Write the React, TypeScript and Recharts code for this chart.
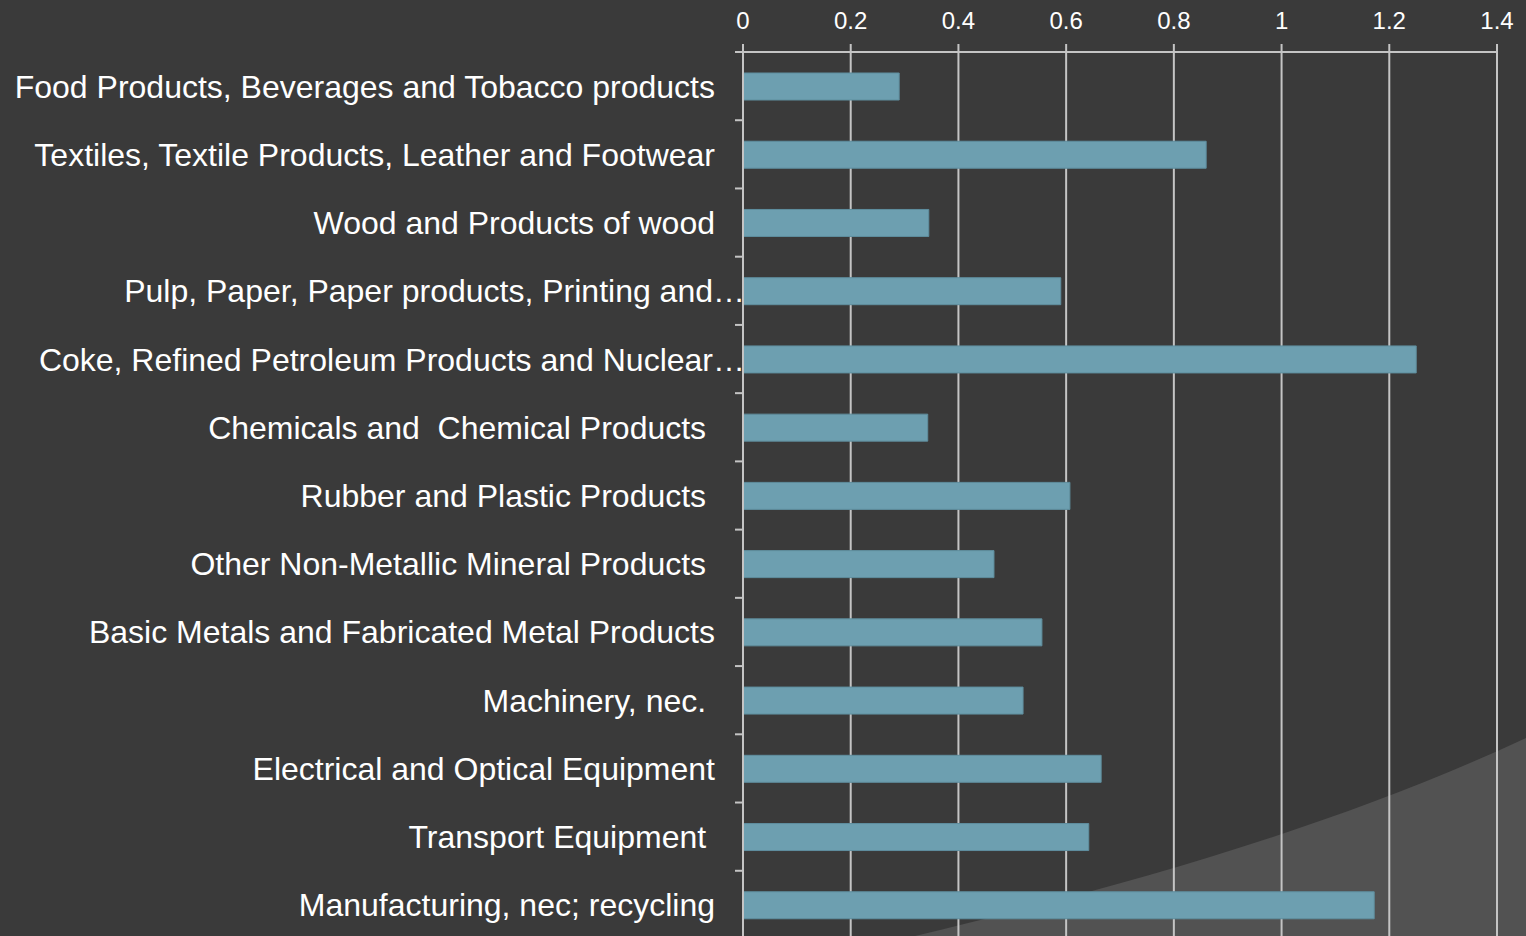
import { BarChart, Bar, XAxis, YAxis, CartesianGrid } from "recharts"

const categories = [
  "Food Products, Beverages and Tobacco products",
  "Textiles, Textile Products, Leather and Footwear",
  "Wood and Products of wood",
  "Pulp, Paper, Paper products, Printing and…",
  "Coke, Refined Petroleum Products and Nuclear…",
  "Chemicals and  Chemical Products ",
  "Rubber and Plastic Products ",
  "Other Non-Metallic Mineral Products ",
  "Basic Metals and Fabricated Metal Products",
  "Machinery, nec. ",
  "Electrical and Optical Equipment",
  "Transport Equipment ",
  "Manufacturing, nec; recycling",
]

const values = [0.29, 0.86, 0.345, 0.59, 1.25, 0.343, 0.607, 0.466, 0.555, 0.52, 0.665, 0.642, 1.172]

const xTicks = [0, 0.2, 0.4, 0.6, 0.8, 1, 1.2, 1.4]

const data = categories.map((name, i) => ({ name, value: values[i] }))

const BG = "#3a3a3a"
const GRID = "#c4c4c4"
const FONT = "'Liberation Sans', Arial, sans-serif"

function CategoryTick(props: any) {
  const { x, y, payload } = props
  const label: string = payload.value
  const half = payload.offset || 34.1
  const cut = label.endsWith("…")
  return (
    <g>
      <line x1={x + 20} x2={x + 28} y1={y - half} y2={y - half} stroke={GRID} strokeWidth={2} />
      <text
        x={cut ? x + 30 : x}
        y={y}
        dy="0.36em"
        textAnchor="end"
        fill="#ffffff"
        fontSize={32}
        fontFamily={FONT}
        style={{ whiteSpace: "pre" }}
      >
        {label}
      </text>
    </g>
  )
}

export default function App() {
  return (
    <div
      style={{
        position: "fixed",
        left: 0,
        top: 0,
        width: 1526,
        height: 936,
        overflow: "hidden",
        background: BG,
        fontFamily: FONT,
      }}
    >
      <svg width={1526} height={936} style={{ position: "absolute", left: 0, top: 0 }}>
        <path d="M 915 936 C 1150 880 1350 820 1526 738 L 1526 936 Z" fill="#525252" />
      </svg>
      <div style={{ position: "absolute", left: 0, top: 0 }}>
        <BarChart
          width={1526}
          height={960}
          data={data}
          layout="vertical"
          margin={{ top: 0, right: 29, bottom: 21, left: 0 }}
        >
          <CartesianGrid horizontal={false} stroke={GRID} strokeWidth={2} />
          <XAxis
            type="number"
            orientation="top"
            domain={[0, 1.4]}
            ticks={xTicks}
            height={52}
            tickSize={8}
            tickMargin={15}
            axisLine={{ stroke: GRID, strokeWidth: 2 }}
            tickLine={{ stroke: GRID, strokeWidth: 2 }}
            tick={{ fill: "#ffffff", fontSize: 24, fontFamily: FONT }}
          />
          <YAxis
            type="category"
            dataKey="name"
            width={743}
            tickSize={8}
            tickMargin={20}
            interval={0}
            axisLine={{ stroke: GRID, strokeWidth: 2 }}
            tickLine={false}
            tick={<CategoryTick />}
          />
          <Bar dataKey="value" fill="#6d9fb0" stroke="#5f8e9e" strokeWidth={1} barSize={27} isAnimationActive={false} />
        </BarChart>
      </div>
    </div>
  )
}
